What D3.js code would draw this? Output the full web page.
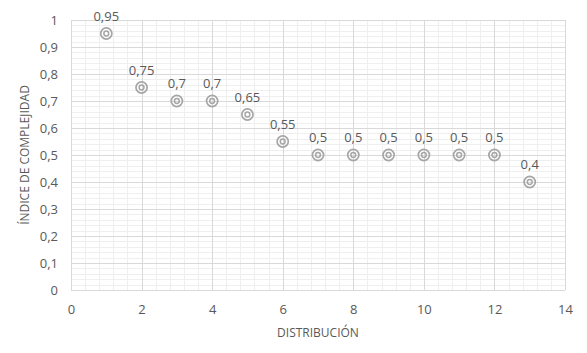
<!DOCTYPE html>
<html>
<head>
<meta charset="utf-8">
<script src="https://cdn.jsdelivr.net/npm/d3@7"></script>
<style>
  body { margin: 0; background: #fff; }
  text { font-family: "Open Sans", "Noto Sans", sans-serif; fill: #595959; }
</style>
</head>
<body>
<script>
// data
var distribucion = [1, 2, 3, 4, 5, 6, 7, 8, 9, 10, 11, 12, 13];
var complejidad = [0.95, 0.75, 0.7, 0.7, 0.65, 0.55, 0.5, 0.5, 0.5, 0.5, 0.5, 0.5, 0.4];
var xTicks = [0, 2, 4, 6, 8, 10, 12, 14];
var yTicks = [0, 0.1, 0.2, 0.3, 0.4, 0.5, 0.6, 0.7, 0.8, 0.9, 1];

var W = 587, H = 353;
var margin = {top: 20, right: 22, bottom: 63, left: 71},
    w = W - margin.left - margin.right,
    h = H - margin.top - margin.bottom;

var fmt = function(v) { return String(+v.toFixed(2)).replace('.', ','); };

var svg = d3.select('body').append('svg')
    .attr('width', W).attr('height', H)
  .append('g')
    .attr('transform', 'translate(' + margin.left + ',' + margin.top + ')');

var xScale = d3.scaleLinear().domain([0, 14]).range([0, w]);
var yScale = d3.scaleLinear().domain([0, 1]).range([h, 0]);

// minor grid
svg.append('g').selectAll('line')
  .data(d3.range(0, 14.001, 0.4))
  .enter().append('line')
  .attr('x1', function(d) { return Math.round(xScale(d)) + 0.5; })
  .attr('x2', function(d) { return Math.round(xScale(d)) + 0.5; })
  .attr('y1', 0).attr('y2', h)
  .attr('stroke', '#efefef');
svg.append('g').selectAll('line')
  .data(d3.range(0, 1.0001, 0.02))
  .enter().append('line')
  .attr('y1', function(d) { return Math.round(yScale(d)) + 0.5; })
  .attr('y2', function(d) { return Math.round(yScale(d)) + 0.5; })
  .attr('x1', 0).attr('x2', w)
  .attr('stroke', '#efefef');

// major grid
svg.append('g').selectAll('line')
  .data(xTicks)
  .enter().append('line')
  .attr('x1', function(d) { return Math.round(xScale(d)) + 0.5; })
  .attr('x2', function(d) { return Math.round(xScale(d)) + 0.5; })
  .attr('y1', 0).attr('y2', h)
  .attr('stroke', '#d9d9d9');
svg.append('g').selectAll('line')
  .data(yTicks)
  .enter().append('line')
  .attr('y1', function(d) { return Math.round(yScale(d)) + 0.5; })
  .attr('y2', function(d) { return Math.round(yScale(d)) + 0.5; })
  .attr('x1', 0).attr('x2', w)
  .attr('stroke', '#d9d9d9');

// axes (labels only)
var xAxis = d3.axisBottom(xScale).tickValues(xTicks).tickSize(0).tickPadding(15).tickFormat(fmt);
var yAxis = d3.axisLeft(yScale).tickValues(yTicks).tickSize(0).tickPadding(13).tickFormat(fmt);

svg.append('g')
  .attr('transform', 'translate(0,' + h + ')')
  .call(xAxis)
  .call(function(g) { g.select('.domain').remove(); })
  .selectAll('text').style('font-size', '13px').attr('fill', '#595959');

svg.append('g')
  .call(yAxis)
  .call(function(g) { g.select('.domain').remove(); })
  .selectAll('text').style('font-size', '13px').attr('fill', '#595959');

// axis titles
svg.append('text')
  .attr('x', w / 2).attr('y', h + 47)
  .attr('text-anchor', 'middle')
  .style('font-size', '12px')
  .text('DISTRIBUCIÓN');

svg.append('text')
  .attr('transform', 'translate(' + (-42) + ',' + (h / 2) + ') rotate(-90)')
  .attr('text-anchor', 'middle')
  .style('font-size', '12px')
  .text('ÍNDICE DE COMPLEJIDAD');

var data = distribucion.map(function(d, i) { return {x: d, y: complejidad[i]}; });

// markers
var pts = svg.append('g').selectAll('g')
  .data(data).enter().append('g')
  .attr('transform', function(d) { return 'translate(' + xScale(d.x) + ',' + yScale(d.y) + ')'; });
pts.append('circle').attr('r', 5.6).attr('fill', 'none').attr('stroke', '#a6a6a6').attr('stroke-width', 1.7);
pts.append('circle').attr('r', 2.4).attr('fill', 'none').attr('stroke', '#a6a6a6').attr('stroke-width', 1.5);

// data labels
svg.append('g').selectAll('text')
  .data(data).enter().append('text')
  .attr('x', function(d) { return xScale(d.x); })
  .attr('y', function(d) { return yScale(d.y) - 13; })
  .attr('text-anchor', 'middle')
  .style('font-size', '13px')
  .attr('fill', '#404040')
  .text(function(d) { return fmt(d.y); });
</script>
</body>
</html>
